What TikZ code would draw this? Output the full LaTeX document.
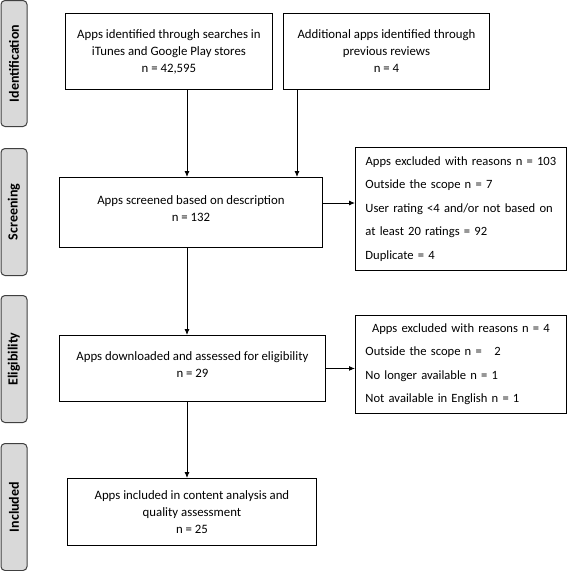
\documentclass[tikz,border=0pt]{standalone}
\usepackage{fontspec}
\setmainfont{Carlito}
\usetikzlibrary{arrows.meta}
\begin{document}
\begin{tikzpicture}[x=1pt,y=-1pt,
  box/.style={draw, line width=0.9pt, align=center, inner sep=0pt, anchor=north west,
    font=\fontsize{12.8}{17}\selectfont},
  exbox/.style={draw, line width=0.9pt, align=left, inner xsep=10pt, inner ysep=0pt, anchor=north west,
    text width=191pt, font=\fontsize{12.6}{23.5}\selectfont},
  side/.style={draw=black!75, fill=black!15, rounded corners=4pt, line width=1pt, rotate=90,
    minimum height=26pt, inner sep=0pt, font=\fontsize{14}{16}\selectfont\bfseries},
  arr/.style={line width=0.9pt, -{Latex[length=6pt,width=5pt]}}
]
\useasboundingbox (0,0) rectangle (568,571);
% side labels
\node[side, minimum width=126pt] (sid) at (14,63.5) {Identification};
\node[side, minimum width=127pt] (sscr) at (14,212) {Screening};
\node[side, minimum width=127pt] (selig) at (14,359) {Eligibility};
\node[side, minimum width=127pt] (sinc) at (14,507) {Included};
% boxes
\node[box, minimum width=207pt, minimum height=76pt] (b1) at (65,13)
  {Apps identified through searches in\\iTunes and Google Play stores\\n = 42,595};
\node[box, minimum width=206pt, minimum height=76pt] (b2) at (283,13)
  {Additional apps identified through\\previous reviews\\n = 4};
\node[box, minimum width=263pt, minimum height=70pt] (scr) at (59,177)
  {Apps screened based on description\\n = 132\\[-9pt]\mbox{}};
\node[exbox, minimum height=123pt] (ex1) at (355,147)
  {\makebox[191pt][c]{Apps excluded with reasons n = 103}\\
   Outside the scope n = 7\\
   User rating <4 and/or not based on\\
   at least 20 ratings = 92\\
   Duplicate = 4};
\node[box, minimum width=266pt, minimum height=66pt] (elig) at (59,335)
  {Apps downloaded and assessed for eligibility\\n = 29\\[-9pt]\mbox{}};
\node[exbox, minimum height=98pt] (ex2) at (355,315)
  {\makebox[191pt][c]{Apps excluded with reasons n = 4}\\
   Outside the scope n = \ \ 2\\
   No longer available n = 1\\
   Not available in English n = 1};
\node[box, minimum width=249pt, minimum height=67pt] (inc) at (67,478)
  {Apps included in content analysis and\\quality assessment\\n = 25};
% connectors
\coordinate (c1) at (187,0);
\coordinate (c2) at (297,0);
\coordinate (r1) at (0,203);
\draw[arr] (b1.south -| c1) -- (scr.north -| c1);
\draw[arr] (b2.south -| c2) -- (scr.north -| c2);
\draw[arr] (scr.east |- r1) -- (ex1.west |- r1);
\draw[arr] (scr.south -| c1) -- (elig.north -| c1);
\draw[arr] (elig.east) -- (ex2.west |- elig.east);
\draw[arr] (elig.south -| c1) -- (inc.north -| c1);
\end{tikzpicture}
\end{document}
